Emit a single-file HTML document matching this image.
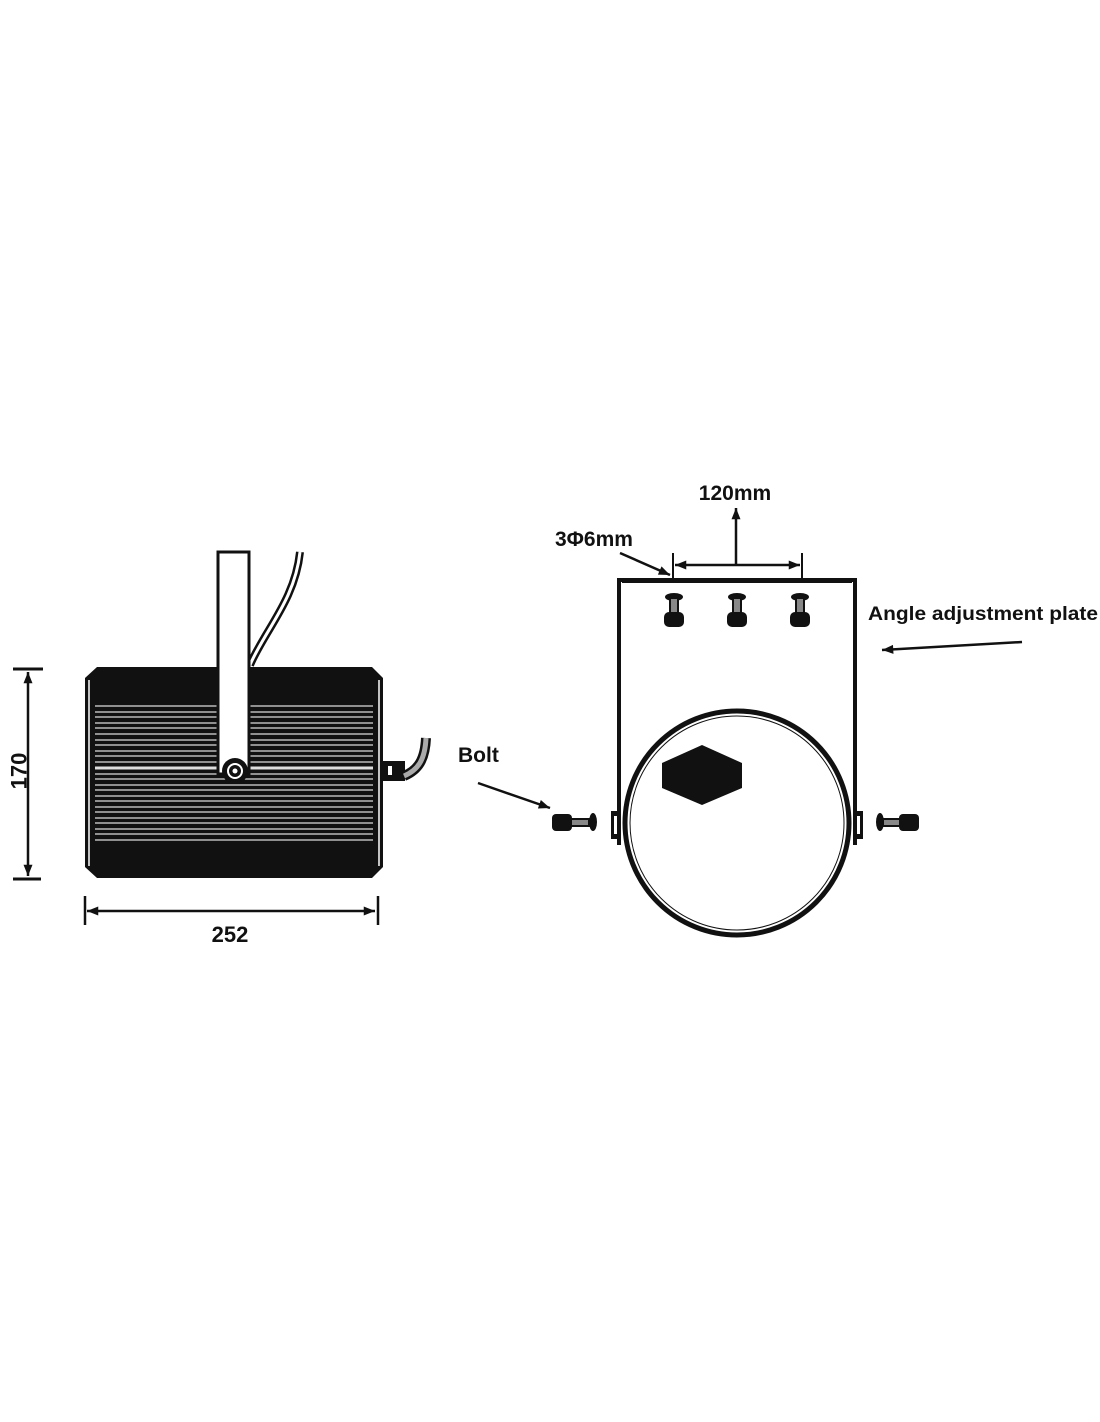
<!DOCTYPE html>
<html><head><meta charset="utf-8"><style>
html,body{margin:0;padding:0;background:#fff;}
svg{display:block}
text{font-family:"Liberation Sans",sans-serif;font-weight:bold;fill:#111}
</style></head><body>
<svg width="1100" height="1422" viewBox="0 0 1100 1422" xmlns="http://www.w3.org/2000/svg">
<defs>
<marker id="ah" viewBox="0 0 10 10" refX="10" refY="5" markerWidth="7" markerHeight="4.5" orient="auto-start-reverse" markerUnits="strokeWidth"><path d="M0,1 L10,5 L0,9 Z" fill="#111"/></marker>
</defs>
<path d="M250,665 C265,630 295,600 300,552" fill="none" stroke="#111" stroke-width="8"/>
<path d="M250,665 C265,630 295,600 300,552" fill="none" stroke="#fff" stroke-width="3"/>
<path d="M97,667 L372,667 L383,678 L383,867 L372,878 L97,878 L85,867 L85,678 Z" fill="#111"/>
<line x1="89" y1="680" x2="89" y2="866" stroke="#fff" stroke-width="1.5"/>
<line x1="379" y1="680" x2="379" y2="866" stroke="#fff" stroke-width="1.5"/>
<g stroke="#ddd" stroke-width="1.3">
<line x1="95" y1="706" x2="373" y2="706"/><line x1="95" y1="712" x2="373" y2="712"/>
<line x1="95" y1="717" x2="373" y2="717"/><line x1="95" y1="723" x2="373" y2="723"/>
<line x1="95" y1="728" x2="373" y2="728"/><line x1="95" y1="734" x2="373" y2="734"/>
<line x1="95" y1="740" x2="373" y2="740"/><line x1="95" y1="745" x2="373" y2="745"/>
<line x1="95" y1="751" x2="373" y2="751"/><line x1="95" y1="756" x2="373" y2="756"/>
<line x1="95" y1="762" x2="373" y2="762"/><line x1="95" y1="768" x2="373" y2="768" stroke-width="3"/>
<line x1="95" y1="774" x2="373" y2="774"/><line x1="95" y1="779" x2="373" y2="779"/>
<line x1="95" y1="785" x2="373" y2="785"/><line x1="95" y1="790" x2="373" y2="790"/>
<line x1="95" y1="796" x2="373" y2="796"/><line x1="95" y1="801" x2="373" y2="801"/>
<line x1="95" y1="807" x2="373" y2="807"/><line x1="95" y1="812" x2="373" y2="812"/>
<line x1="95" y1="818" x2="373" y2="818"/><line x1="95" y1="823" x2="373" y2="823"/>
<line x1="95" y1="829" x2="373" y2="829"/><line x1="95" y1="834" x2="373" y2="834"/>
<line x1="95" y1="840" x2="373" y2="840"/>
</g>
<rect x="218" y="552" width="31" height="222" fill="#fff" stroke="#111" stroke-width="3"/>
<circle cx="235" cy="771" r="13" fill="#111"/>
<circle cx="235" cy="771" r="8" fill="#fff"/>
<circle cx="235" cy="771" r="6" fill="#111"/>
<circle cx="235" cy="771" r="2.5" fill="#fff"/>
<rect x="383" y="761" width="22" height="20" fill="#111"/>
<rect x="388" y="766" width="4" height="9" fill="#fff"/>
<path d="M404,776 C418,770 425,760 426,738" fill="none" stroke="#111" stroke-width="10"/>
<path d="M404,776 C418,770 425,760 426,738" fill="none" stroke="#aaa" stroke-width="5"/>
<line x1="13" y1="669" x2="43" y2="669" stroke="#111" stroke-width="3"/>
<line x1="13" y1="879" x2="41" y2="879" stroke="#111" stroke-width="3"/>
<line x1="28" y1="672" x2="28" y2="876" stroke="#111" stroke-width="2.5" marker-start="url(#ah)" marker-end="url(#ah)"/>
<text x="0" y="0" font-size="22" transform="translate(19,771) rotate(-90)" text-anchor="middle" dominant-baseline="central">170</text>
<line x1="85" y1="896" x2="85" y2="925" stroke="#111" stroke-width="2.5"/>
<line x1="378" y1="896" x2="378" y2="925" stroke="#111" stroke-width="2.5"/>
<line x1="87" y1="911" x2="375" y2="911" stroke="#111" stroke-width="2.5" marker-start="url(#ah)" marker-end="url(#ah)"/>
<text x="230" y="942" font-size="22" text-anchor="middle">252</text>

<path d="M619,845 L619,580 L855,580 L855,845" fill="none" stroke="#111" stroke-width="4"/>
<line x1="622" y1="582" x2="852" y2="582" stroke="#111" stroke-width="2"/>
<circle cx="737" cy="823" r="112" fill="none" stroke="#111" stroke-width="5"/>
<circle cx="737" cy="823" r="107" fill="none" stroke="#111" stroke-width="1"/>
<polygon points="702,745 742,763 742,788 702,805 662,788 662,763" fill="#111"/>
<rect x="611" y="811" width="9" height="28" fill="#111"/><rect x="614" y="816" width="3" height="18" fill="#fff"/>
<rect x="854" y="811" width="9" height="28" fill="#111"/><rect x="857" y="816" width="3" height="18" fill="#fff"/>
<g fill="#111">
<ellipse cx="674" cy="597" rx="9" ry="4"/><rect x="670" y="598" width="8" height="15" fill="#888" stroke="#111" stroke-width="2"/><rect x="664" y="612" width="20" height="15" rx="5"/>
<ellipse cx="737" cy="597" rx="9" ry="4"/><rect x="733" y="598" width="8" height="15" fill="#888" stroke="#111" stroke-width="2"/><rect x="727" y="612" width="20" height="15" rx="5"/>
<ellipse cx="800" cy="597" rx="9" ry="4"/><rect x="796" y="598" width="8" height="15" fill="#888" stroke="#111" stroke-width="2"/><rect x="790" y="612" width="20" height="15" rx="5"/>
</g>
<g fill="#111">
<rect x="552" y="814" width="20" height="17" rx="4"/><rect x="571" y="819" width="18" height="7" fill="#888" stroke="#111" stroke-width="2"/><ellipse cx="593" cy="822" rx="4" ry="9"/>
<ellipse cx="880" cy="822" rx="4" ry="9"/><rect x="883" y="819" width="18" height="7" fill="#888" stroke="#111" stroke-width="2"/><rect x="899" y="814" width="20" height="17" rx="4"/>
</g>
<line x1="673" y1="553" x2="673" y2="578" stroke="#111" stroke-width="2"/>
<line x1="802" y1="553" x2="802" y2="578" stroke="#111" stroke-width="2"/>
<line x1="675" y1="565" x2="800" y2="565" stroke="#111" stroke-width="2.5" marker-start="url(#ah)" marker-end="url(#ah)"/>
<line x1="736" y1="565" x2="736" y2="508" stroke="#111" stroke-width="2.5" marker-end="url(#ah)"/>
<text x="735" y="500" font-size="21" text-anchor="middle">120mm</text>
<text x="555" y="546" font-size="21">3Φ6mm</text>
<line x1="620" y1="553" x2="670" y2="575" stroke="#111" stroke-width="2.5" marker-end="url(#ah)"/>
<text x="458" y="762" font-size="21">Bolt</text>
<line x1="478" y1="783" x2="550" y2="808" stroke="#111" stroke-width="2.5" marker-end="url(#ah)"/>
<text x="868" y="620" font-size="19" textLength="230" lengthAdjust="spacingAndGlyphs">Angle adjustment plate</text>
<line x1="1022" y1="642" x2="882" y2="650" stroke="#111" stroke-width="2.5" marker-end="url(#ah)"/>
</svg>
</body></html>
